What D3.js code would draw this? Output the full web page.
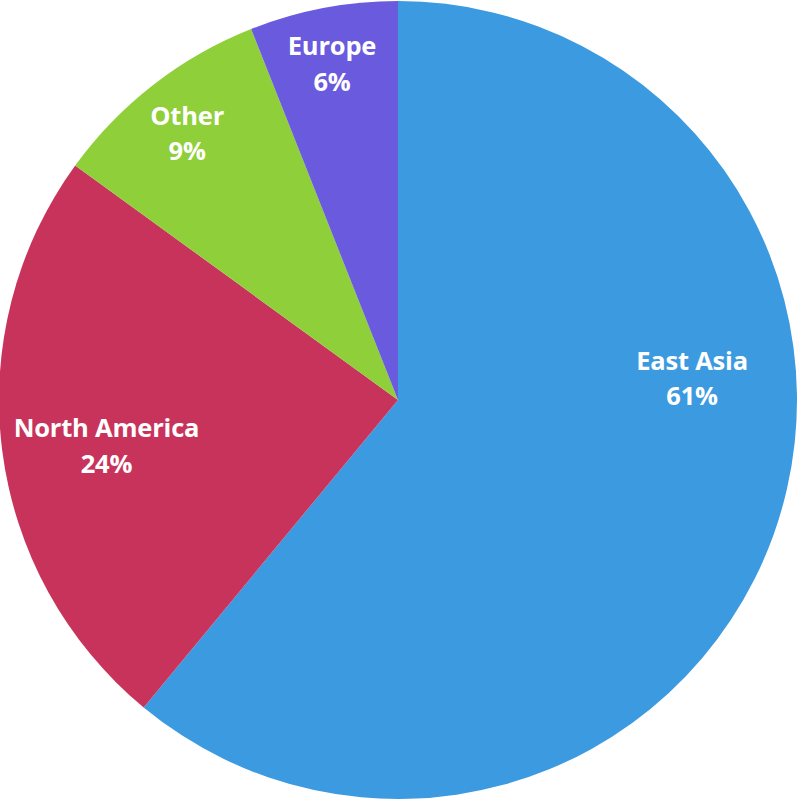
<!DOCTYPE html>
<html><head><meta charset="utf-8">
<script src="https://cdn.jsdelivr.net/npm/d3@7"></script>
<style>html,body{margin:0;padding:0;background:#fff;}svg{display:block;}</style>
</head><body>
<svg id="chart" width="797" height="800"></svg>
<script>
const categories = ["East Asia", "North America", "Other", "Europe"];
const values = [61, 24, 9, 6];
const colors = ["#3c9ae0", "#c8335c", "#8ecf3a", "#6a5ade"];
// label placement: [angle offset (deg) from slice middle, radius]
const labelPlace = {"East Asia": [-23.7, 294.7], "North America": [-2.0, 295.3], "Other": [-0.7, 338.7], "Europe": [-0.35, 341.4]};

const svg = d3.select("#chart");
const cx = 398, cy = 400, R = 399;
const g = svg.append("g").attr("transform", `translate(${cx},${cy})`);
const data = categories.map((c, i) => ({name: c, value: values[i], color: colors[i]}));
const pie = d3.pie().value(d => d.value).sort(null);
const arc = d3.arc().innerRadius(0).outerRadius(R);
const arcs = pie(data);
g.selectAll("path").data(arcs).join("path")
  .attr("d", arc).attr("fill", d => d.data.color);

const lbl = g.selectAll("text").data(arcs).join("text")
  .attr("transform", d => {
    const [off, r] = labelPlace[d.data.name];
    const a = (d.startAngle + d.endAngle) / 2 + off * Math.PI / 180;
    return `translate(${r * Math.sin(a)},${-r * Math.cos(a)})`;
  })
  .attr("text-anchor", "middle")
  .attr("fill", "#fff")
  .style("font-family", "'Open Sans', sans-serif")
  .style("font-weight", "bold")
  .style("font-size", "25.5px")
  .style("letter-spacing", "-0.2px");
lbl.append("tspan").attr("x", 0).attr("y", -10).text(d => d.data.name);
lbl.append("tspan").attr("x", 0).attr("y", 25.5).text(d => d.data.value + "%");
</script>
</body></html>
